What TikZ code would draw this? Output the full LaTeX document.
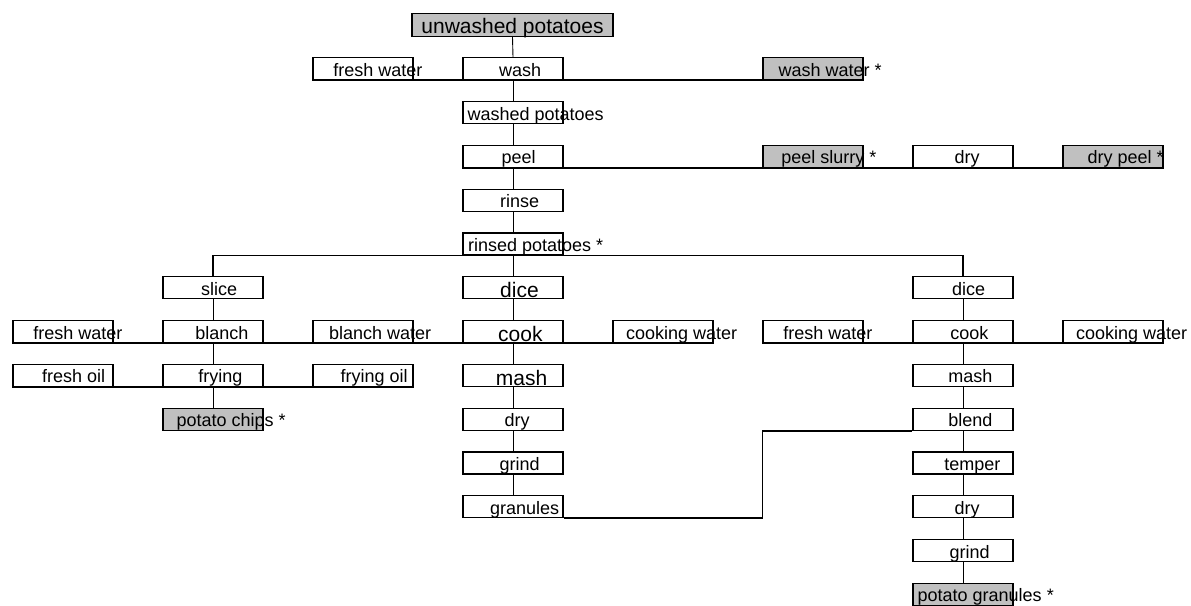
\documentclass[tikz,border=0pt]{standalone}
\usepackage{fontspec}
\setmainfont{Liberation Sans}
\usepackage{tikz}
\definecolor{cellgrey}{RGB}{192,192,192}
\newlength\celltw
% text starts a third of its width left of the box centre, sits on the bottom edge
\newcommand\celltext[2][7.5pt]{\settowidth\celltw{#2}\smash{\makebox[0pt][l]{\hspace{-0.333\celltw}\raisebox{-#1}{#2}}}}
\tikzset{box/.style={draw, line width=1.1pt, minimum width=100pt, minimum height=22pt,
    inner sep=0pt, font=\fontsize{18}{20}\selectfont},
  prod/.style={box, fill=cellgrey},
  big/.style={font=\fontsize{21}{24}\selectfont},
  flow/.style={line width=1.8pt},
  link/.style={line width=0.9pt}}

\begin{document}
\begin{tikzpicture}[x=1pt,y=-1pt]
		\useasboundingbox (0,0) rectangle (1191,605);
		% main line
		\node[prod,big,minimum width=201pt,minimum height=23pt] (unwashed) at (512.5,25) {\smash{\raisebox{-8pt}{unwashed potatoes}}};
		\node[box] (fw1) at (363,68.8) {\celltext{fresh water}};
		\node[box] (wash) at (513,68.8) {\celltext{wash}};
		\node[prod] (washwater) at (813,68.8) {\celltext{wash water *}};
		\node[box] (washed) at (513,112.6) {\celltext{washed potatoes}};
		\node[box] (peel) at (513,156.4) {\celltext{peel}};
		\node[prod] (slurry) at (813,156.4) {\celltext{peel slurry *}};
		\node[box] (dry1) at (963,156.4) {\celltext{dry}};
		\node[prod] (drypeel) at (1113,156.4) {\celltext{dry peel *}};
		\node[box] (rinse) at (513,200.2) {\celltext{rinse}};
		\node[box] (rinsed) at (513,244) {\celltext{rinsed potatoes *}};
		% chips
		\node[box] (slice) at (213,287.8) {\celltext{slice}};
		\node[box] (fw2) at (63,331.6) {\celltext{fresh water}};
		\node[box] (blanch) at (213,331.6) {\celltext{blanch}};
		\node[box] (bwater) at (363,331.6) {\celltext{blanch water}};
		\node[box] (oil) at (63,375.4) {\celltext{fresh oil}};
		\node[box] (frying) at (213,375.4) {\celltext{frying}};
		\node[box] (fryoil) at (363,375.4) {\celltext{frying oil}};
		\node[prod] (chips) at (213,419.2) {\celltext{potato chips *}};
		% granules
		\node[box,big] (dice) at (513,287.8) {\celltext[10pt]{dice}};
		\node[box,big] (cook) at (513,331.6) {\celltext[10pt]{cook}};
		\node[box] (cw1) at (663,331.6) {\celltext{cooking water}};
		\node[box,big] (mash) at (513,375.4) {\celltext[10pt]{mash}};
		\node[box] (dry) at (513,419.2) {\celltext{dry}};
		\node[box] (grind) at (513,463) {\celltext{grind}};
		\node[box] (granules) at (513,506.8) {\celltext{granules}};
		% flakes side
		\node[box] (dice2) at (963,287.8) {\celltext{dice}};
		\node[box] (fw3) at (813,331.6) {\celltext{fresh water}};
		\node[box] (cook2) at (963,331.6) {\celltext{cook}};
		\node[box] (cw2) at (1113,331.6) {\celltext{cooking water}};
		\node[box] (mash2) at (963,375.4) {\celltext{mash}};
		\node[box] (blend) at (963,419.2) {\celltext{blend}};
		\node[box] (temper) at (963,463) {\celltext{temper}};
		\node[box] (dry2) at (963,506.8) {\celltext{dry}};
		\node[box] (grind2) at (963,550.6) {\celltext{grind}};
		\node[prod] (pgran) at (963,594.4) {\celltext{potato granules *}};

		\foreach \a/\b in {unwashed/wash, wash/washed, washed/peel, peel/rinse, rinse/rinsed,
				rinsed/dice, dice/cook, cook/mash, mash/dry, dry/grind, grind/granules,
				slice/blanch, blanch/frying, frying/chips,
				dice2/cook2, cook2/mash2, mash2/blend, blend/temper, temper/dry2, dry2/grind2, grind2/pgran}
			\draw[link] (\a.south) -- (\b.north);

		\draw[flow] (fw1.south west) -- (washwater.south east);
		\draw[flow] (peel.south west) -- (drypeel.south east);
		\draw[flow] (slice.north) |- (rinsed.south) -| (dice2.north);
		\draw[flow] (fw2.south west) -- (cw1.south east);
		\draw[flow] (fw3.south west) -- (cw2.south east);
		\draw[flow] (oil.south west) -- (fryoil.south east);
		\draw[flow] (granules.south east) -| (fw3.south west |- blend.south) -- (blend.south west);
\end{tikzpicture}
\end{document}
